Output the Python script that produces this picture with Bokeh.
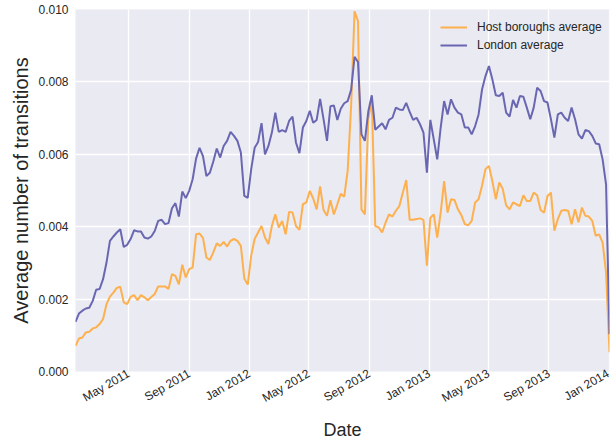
import pandas as pd
from math import pi
from bokeh.plotting import figure
from bokeh.models import FixedTicker, NumeralTickFormatter, Range1d, Legend, LegendItem
from bokeh.embed import file_html
from bokeh.resources import INLINE

# ---- data (weekly) ----
start_date = "2011-01-13"
n_weeks = 156
dates = pd.date_range(start=start_date, periods=n_weeks, freq="7D")

# values in thousandths (x 0.001)
host_boroughs_milli = [
    0.71, 0.91, 0.94, 1.08, 1.10, 1.19, 1.22, 1.31, 1.45, 1.86,
    2.07, 2.18, 2.31, 2.34, 1.91, 1.86, 2.06, 2.11, 1.97, 2.11,
    2.05, 1.97, 2.06, 2.14, 2.35, 2.35, 2.35, 2.28, 2.69, 2.64,
    2.41, 2.95, 2.60, 2.83, 2.87, 3.79, 3.81, 3.69, 3.15, 3.08,
    3.29, 3.54, 3.47, 3.58, 3.45, 3.61, 3.66, 3.61, 3.47, 2.57,
    2.40, 3.20, 3.66, 3.84, 4.02, 3.70, 3.52, 4.02, 4.34, 3.98,
    4.16, 3.79, 4.41, 4.39, 4.02, 3.91, 4.62, 4.67, 4.99, 4.78,
    4.48, 5.11, 4.46, 4.30, 4.73, 4.34, 4.62, 4.91, 4.83, 5.54,
    7.33, 9.95, 9.68, 4.48, 4.34, 6.97, 7.52, 4.02, 3.98, 3.84,
    4.11, 4.34, 4.28, 4.44, 4.57, 4.94, 5.29, 4.19, 4.19, 4.21,
    4.23, 4.19, 2.92, 4.25, 4.34, 3.70, 4.39, 5.26, 4.39, 4.76,
    4.74, 4.48, 4.32, 4.07, 4.04, 4.16, 4.67, 4.76, 5.13, 5.59,
    5.68, 5.26, 4.76, 5.22, 5.05, 4.59, 4.48, 4.67, 4.62, 4.57,
    4.87, 4.71, 4.71, 4.94, 4.87, 4.46, 4.39, 4.85, 4.94, 3.89,
    4.21, 4.44, 4.46, 4.44, 4.07, 4.48, 4.12, 4.53, 4.30, 4.28,
    4.16, 3.75, 3.79, 3.56, 2.74, 0.53,
]
london_milli = [
    1.37, 1.60, 1.68, 1.74, 1.76, 1.95, 2.26, 2.28, 2.55, 3.01,
    3.61, 3.73, 3.84, 3.93, 3.44, 3.50, 3.66, 3.90, 3.87, 3.87,
    3.70, 3.67, 3.73, 3.88, 4.16, 4.19, 4.07, 4.10, 4.51, 4.65,
    4.28, 4.97, 4.79, 4.99, 5.31, 5.88, 6.18, 5.95, 5.40, 5.49,
    5.80, 6.16, 5.91, 6.23, 6.37, 6.62, 6.51, 6.37, 6.05, 4.85,
    4.80, 5.59, 6.18, 6.34, 6.86, 6.00, 6.23, 6.60, 7.15, 6.62,
    6.67, 6.62, 6.92, 7.04, 6.32, 6.03, 6.74, 6.92, 7.20, 6.87,
    6.95, 7.53, 6.97, 6.37, 7.33, 7.35, 6.95, 7.26, 7.41, 7.47,
    7.78, 8.69, 8.55, 6.55, 6.37, 7.19, 7.63, 6.68, 6.77, 6.86,
    6.69, 6.95, 7.01, 7.29, 7.24, 7.22, 7.42, 7.17, 6.95, 7.01,
    6.83, 6.60, 5.49, 6.95, 6.41, 5.86, 6.74, 7.47, 7.10, 7.52,
    7.29, 7.15, 7.10, 6.74, 6.74, 6.55, 6.78, 7.10, 7.79, 8.16,
    8.44, 8.07, 7.63, 7.61, 7.70, 7.15, 7.04, 7.50, 7.29, 7.61,
    7.59, 7.29, 6.97, 7.29, 7.84, 7.75, 7.47, 7.43, 6.97, 6.46,
    7.10, 7.15, 7.01, 6.92, 7.29, 6.97, 6.55, 6.43, 6.67, 6.64,
    6.51, 6.30, 6.28, 5.86, 5.17, 1.03,
]
host_boroughs = [v / 1000.0 for v in host_boroughs_milli]
london = [v / 1000.0 for v in london_milli]

series_labels = ["Host boroughs average", "London average"]
series_colors = ["#FDB04D", "#6A67B2"]

x_tick_dates = ["2011-05-01", "2011-09-01", "2012-01-01", "2012-05-01", "2012-09-01",
                "2013-01-01", "2013-05-01", "2013-09-01", "2014-01-01"]
x_tick_labels = ["May 2011", "Sep 2011", "Jan 2012", "May 2012", "Sep 2012",
                 "Jan 2013", "May 2013", "Sep 2013", "Jan 2014"]
y_ticks = [0.000, 0.002, 0.004, 0.006, 0.008, 0.010]

FONT = "Liberation Sans"
TXT = "#262626"

p = figure(width=611, height=442, x_axis_type="datetime",
           output_backend="svg", toolbar_location=None,
           x_range=Range1d(dates[0], dates[-1]), y_range=Range1d(0, 0.010))
p.min_border = 0
p.min_border_left = 75
p.min_border_right = 2
p.min_border_top = 9
p.min_border_bottom = 71

p.background_fill_color = "#EAEAF2"
p.border_fill_color = "white"
p.outline_line_color = None

tick_ms = [float(pd.Timestamp(d).value // 10**6) for d in x_tick_dates]
p.xaxis.ticker = FixedTicker(ticks=tick_ms)
p.xaxis.major_label_overrides = {t: lab for t, lab in zip(tick_ms, x_tick_labels)}
p.xaxis.major_label_orientation = pi / 6
p.yaxis.ticker = FixedTicker(ticks=y_ticks)
p.yaxis.formatter = NumeralTickFormatter(format="0.000")

for ax in (p.xaxis, p.yaxis):
    ax.axis_line_color = None
    ax.major_tick_line_color = None
    ax.minor_tick_line_color = None
    ax.major_tick_out = 0
    ax.major_tick_in = 0
    ax.major_label_text_font = FONT
    ax.major_label_text_font_size = "12px"
    ax.major_label_text_color = TXT
    ax.axis_label_text_font = FONT
    ax.axis_label_text_font_style = "normal"
    ax.axis_label_text_color = TXT

p.xaxis.axis_label = "Date"
p.yaxis.axis_label = "Average number of transitions"
p.xaxis.axis_label_text_font_size = "18px"
p.yaxis.axis_label_text_font_size = "20px"
p.yaxis.major_label_standoff = 7
p.xaxis.major_label_standoff = 1
p.yaxis.axis_label_standoff = 3
p.xaxis.axis_label_standoff = 6

p.xgrid.grid_line_color = "white"
p.ygrid.grid_line_color = "white"
p.xgrid.grid_line_width = 1.3
p.ygrid.grid_line_width = 1.3

r_host = p.line(dates, host_boroughs, line_color=series_colors[0], line_width=2)
r_lon = p.line(dates, london, line_color=series_colors[1], line_width=2)

legend = Legend(items=[LegendItem(label=series_labels[0], renderers=[r_host]),
                       LegendItem(label=series_labels[1], renderers=[r_lon])],
                location=(365, 318))
legend.border_line_color = None
legend.background_fill_alpha = 0
legend.label_text_font = FONT
legend.label_text_font_size = "12px"
legend.label_text_color = TXT
legend.glyph_width = 27
legend.glyph_height = 16
legend.label_height = 16
legend.spacing = 2
legend.padding = 0
legend.margin = 0
legend.label_standoff = 10
p.add_layout(legend)

open("out.html", "w").write(file_html(p, INLINE))
